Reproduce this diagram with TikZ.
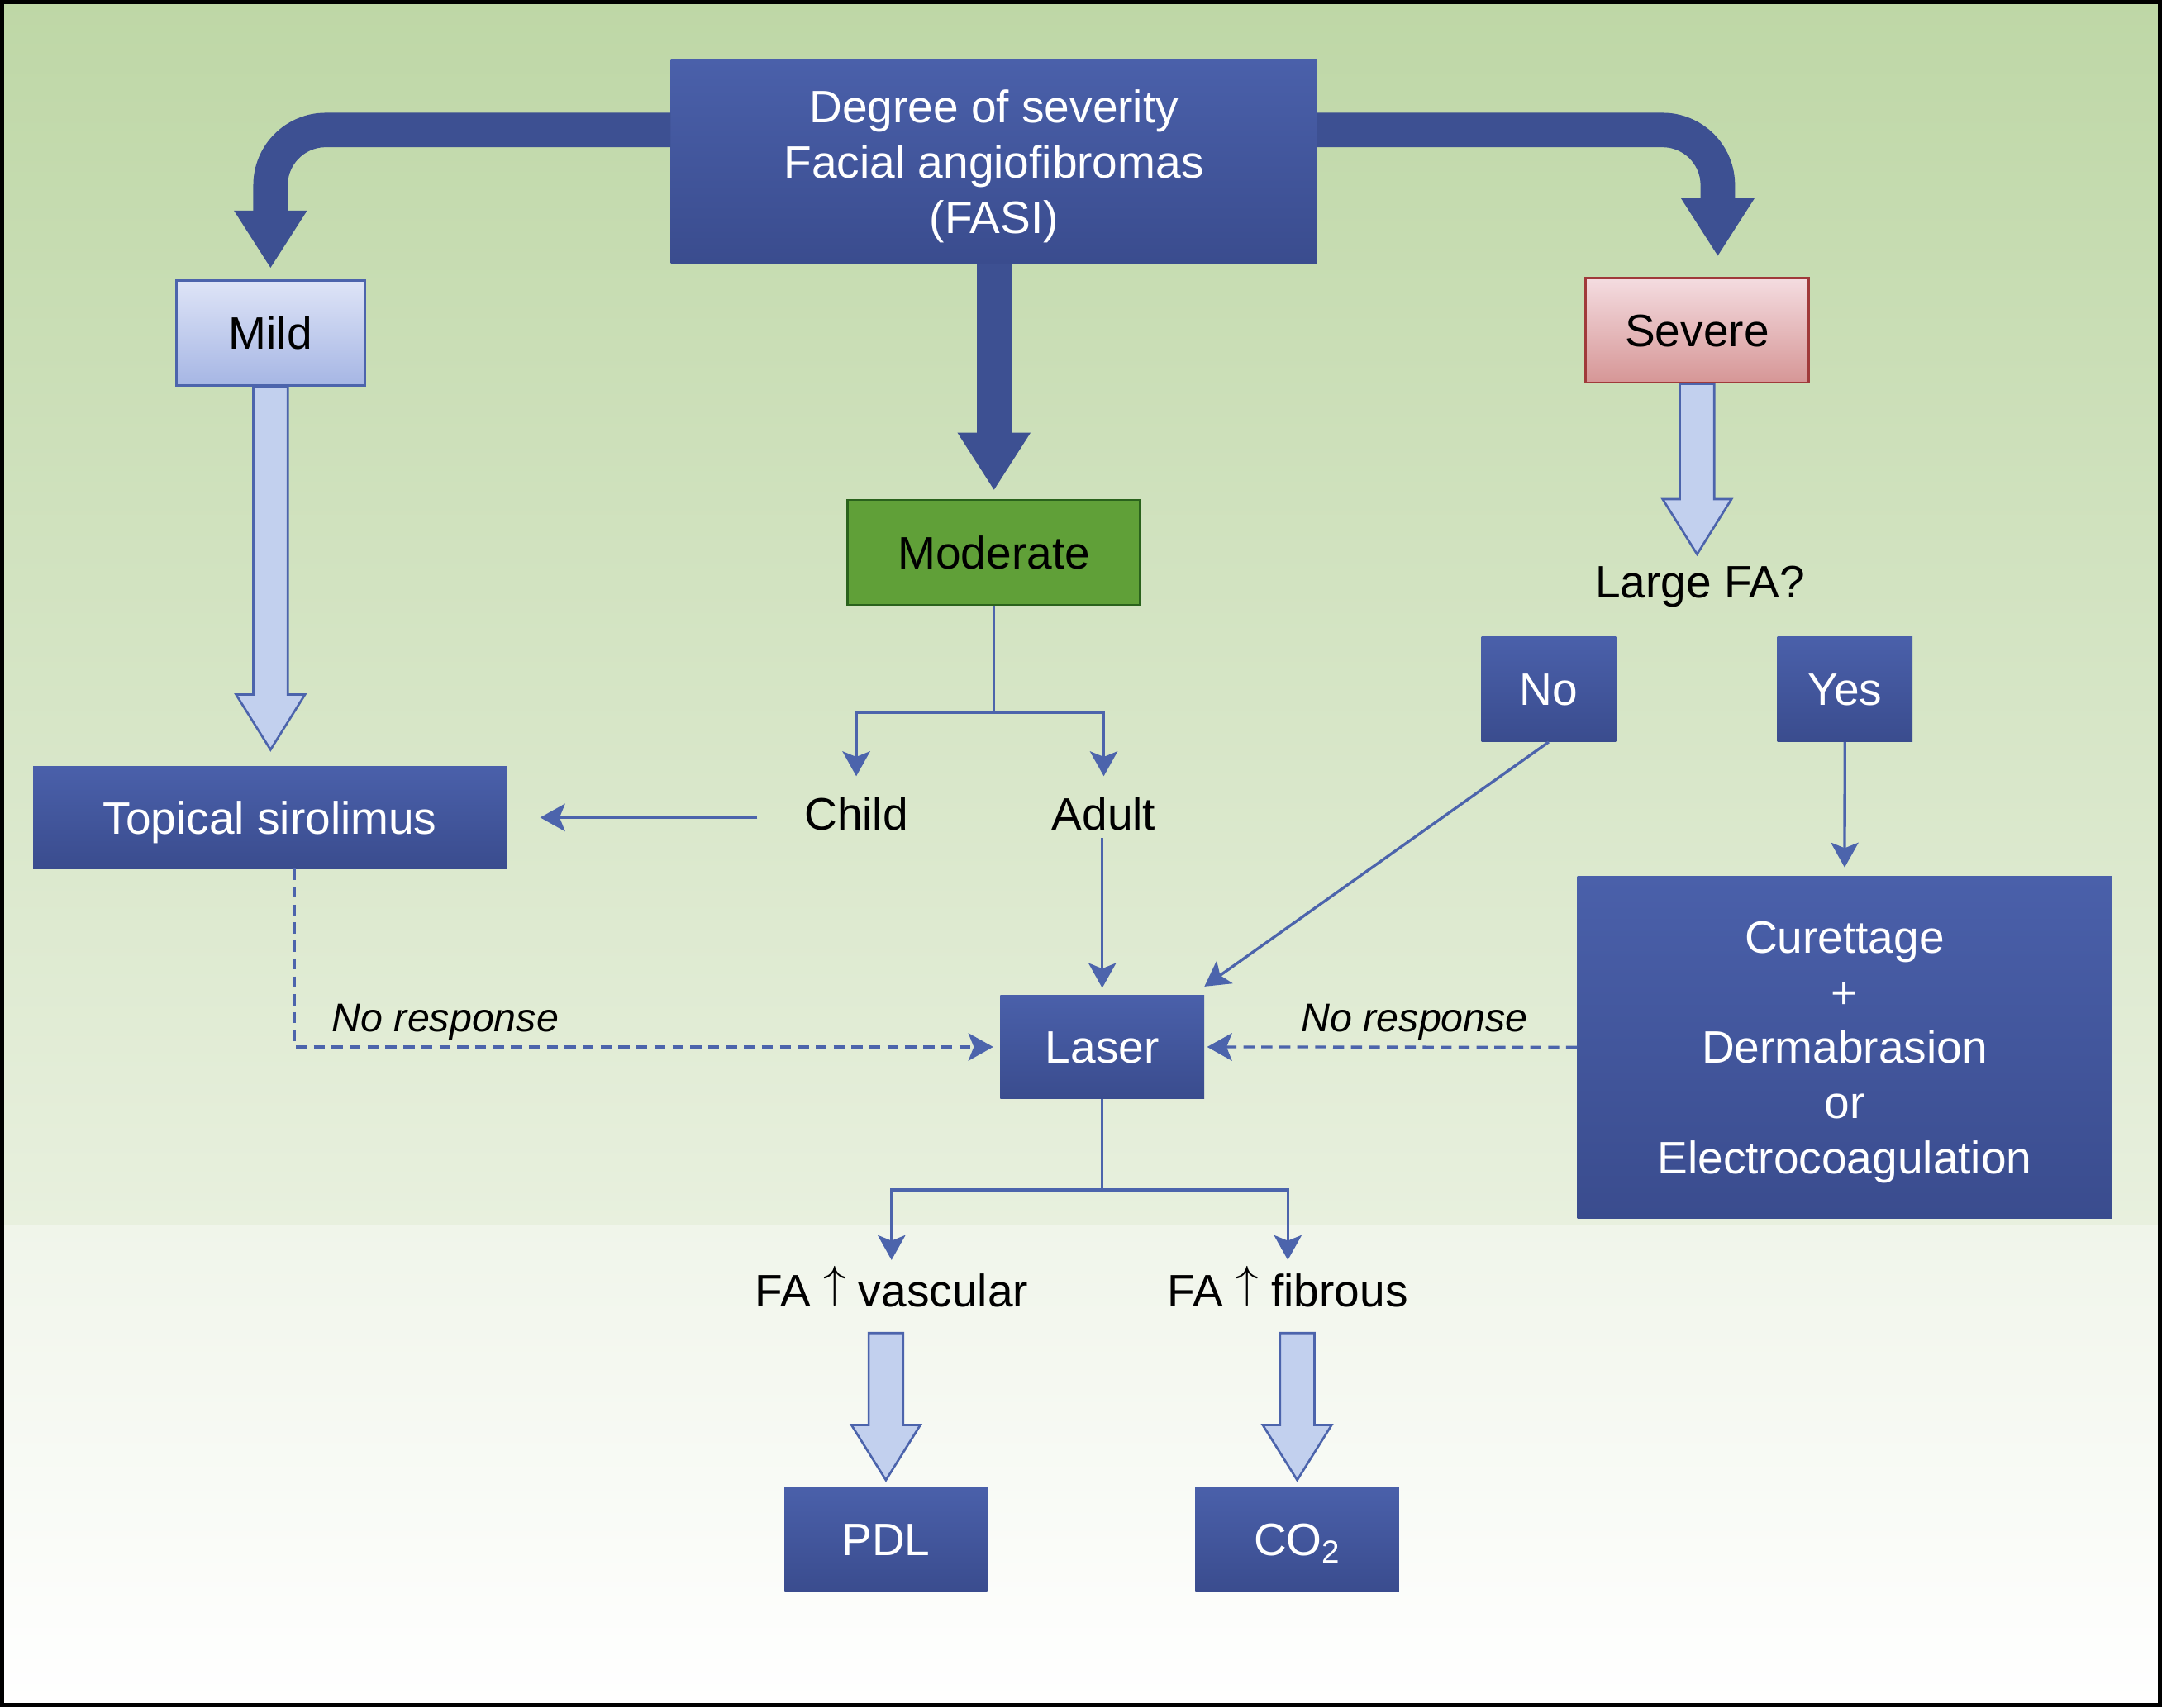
\RequirePackage{fix-cm}
\documentclass[tikz,border=0pt]{standalone}
\usepackage{fontspec}
\setmainfont{Liberation Sans}
\usepackage{tikz}
\usetikzlibrary{arrows.meta,calc}

\definecolor{boxblue}{RGB}{74,96,170}
\definecolor{boxbluedark}{RGB}{58,76,142}
\definecolor{bandblue}{RGB}{61,80,146}
\definecolor{linkblue}{RGB}{76,100,172}
\definecolor{paleblue}{RGB}{194,208,238}
\definecolor{mildtop}{RGB}{222,228,247}
\definecolor{mildbot}{RGB}{166,182,228}
\definecolor{sevtop}{RGB}{244,220,224}
\definecolor{sevbot}{RGB}{214,150,150}
\definecolor{sevline}{RGB}{160,58,58}
\definecolor{modfill}{RGB}{96,160,56}
\definecolor{modline}{RGB}{42,98,28}
\definecolor{bgtop}{RGB}{190,215,166}
\definecolor{bgmid}{RGB}{232,240,222}
\definecolor{bglow}{RGB}{240,245,234}

\tikzset{
  box/.style={rectangle, inner sep=0pt, font=\fontsize{33}{40}\selectfont},
  oneline/.style={text height=23.6pt, text depth=0pt},
  bluebox/.style={box, top color=boxblue, bottom color=boxbluedark, text=white},
  mildbox/.style={box, oneline, top color=mildtop, bottom color=mildbot, draw=linkblue, line width=1.6pt},
  sevbox/.style={box, oneline, top color=sevtop, bottom color=sevbot, draw=sevline, line width=1.6pt},
  modbox/.style={box, oneline, fill=modfill, draw=modline, line width=1.6pt},
  word/.style={box, oneline},
  note/.style={inner sep=0pt, font=\itshape\fontsize{29}{34}\selectfont, text height=20.8pt, text depth=0pt},
  band/.style={draw=bandblue, line width=25pt, -{Triangle[length=42pt,width=50pt]}},
  hollow/.style={draw=linkblue, fill=paleblue, line width=1.6pt},
  link/.style={linkblue, line width=2pt, -{Stealth[length=18pt,width=20pt,inset=4pt]}},
  dashlink/.style={link, dash pattern=on 8pt off 5pt}
}

% wide pale arrow pointing down, from #1 to the tip #2
\newcommand{\hollowarrow}[2]{%
  \draw[hollow] let \p1=#1, \p2=#2 in
    (\x1-12.5,\y1) -- (\x1-12.5,\y2+40) -- (\x1-25,\y2+40) -- (\x1,\y2)
    -- (\x1+25,\y2+40) -- (\x1+12.5,\y2+40) -- (\x1+12.5,\y1) -- cycle;}
% thin upward arrow a little taller than the capitals
\newcommand{\up}{\raisebox{0.194em}{$\uparrow$}}

\begin{document}
\begin{tikzpicture}[x=1pt,y=1pt]
   \useasboundingbox (0,0) rectangle (1568,-1238.4);
   \shade[top color=bgtop, bottom color=bgmid] (0,0) rectangle (1568,-889);
   \shade[top color=bglow, bottom color=white] (0,-889) rectangle (1568,-1238.4);
   \draw[line width=3pt] (1.5,-1.5) rectangle (1566.5,-1236.9);

   \draw (720.9,-117.3) node[bluebox, align=center, text height=103.6pt, text depth=0pt, minimum width=468.8pt, minimum height=147.4pt] (degree) {Degree of severity\\Facial angiofibromas\\(FASI)};
     \draw (196.2,-241.5) node[mildbox, minimum width=136.7pt, minimum height=76pt] (mild) {Mild};
     \draw (720.9,-400.7) node[modbox, minimum width=212.2pt, minimum height=76.2pt] (moderate) {Moderate};
     \draw (1230.8,-239.7) node[sevbox, minimum width=161.6pt, minimum height=75.8pt] (severe) {Severe};
   \draw (195.8,-593) node[bluebox, oneline, minimum width=343.6pt, minimum height=74pt] (topical) {Topical sirolimus};
      \draw (621,-590) node[word] (child) {Child};
      \draw (800.5,-590) node[word] (adult) {Adult};
      \draw (1233,-422) node[word] (largefa) {Large FA?};
      \draw (1123.2,-500) node[bluebox, oneline, minimum width=97.5pt, minimum height=76pt] (no) {No};
      \draw (1338,-500) node[bluebox, oneline, minimum width=98pt, minimum height=76pt] (yes) {Yes};
   \draw (799.4,-759.4) node[bluebox, oneline, minimum width=147.8pt, minimum height=75.2pt] (laser) {Laser};
   \draw (1337.8,-759.6) node[bluebox, align=center, text height=183.6pt, text depth=0pt, minimum width=387.6pt, minimum height=248.4pt] (cure) {Curettage\\+\\Dermabrasion\\or\\Electrocoagulation};
      \draw (646.6,-936) node[word] (vasc) {FA \up{} vascular};
      \draw (934,-936) node[word] (fibr) {FA \up{} fibrous};
      \draw (642.5,-1116.8) node[bluebox, oneline, minimum width=147pt, minimum height=76pt] (pdl) {PDL};
      \draw (940.8,-1116.8) node[bluebox, oneline, minimum width=147.7pt, minimum height=76pt] (co2) {CO\textsubscript{2}};
   \draw (323,-738) node[note] (noresp1) {No response};
   \draw (1026,-738) node[note] (noresp2) {No response};

     \draw[band, rounded corners=40pt] ([yshift=23pt]degree.west) -| ($(mild.north)+(0,8)$);
     \draw[band, rounded corners=40pt] ([yshift=23pt]degree.east) -| ($(severe.north)+(15,15)$);
     \draw[band] (degree.south) -- ($(moderate.north)+(0,6)$);

     \hollowarrow{(mild.south)}{($(topical.north)+(0,12)$)}
     \hollowarrow{(severe.south)}{($(largefa.north)+(0,8)$)}
     \hollowarrow{($(vasc.south -| pdl.north)+(0,-19)$)}{($(pdl.north)+(0,5)$)}
     \hollowarrow{($(fibr.south -| co2.north)+(0,-19)$)}{($(co2.north)+(0,5)$)}

     \draw[link] (moderate.south) -- ++(0,-77) coordinate (modsplit) -| ($(child.north)+(0,15)$);
     \draw[link] (modsplit) -| ($(adult.north)+(0,15)$);
     \draw[link] ($(topical.east -| child.west)+(-34,0)$) -- ($(topical.east)+(24,0)$);
     \draw[link] ($(adult.south -| laser.north)+(0,-6)$) -- ($(laser.north)+(0,5)$);
     \draw[link] (no.south) -- ($(laser.north east)+(0,6)$);
     \draw[link] (yes.south) -- ($(cure.north)+(0,6)$);
     \draw[link] (laser.south) -- ++(0,-66) coordinate (lasersplit) -| ($(vasc.north)+(0,10)$);
     \draw[link] (lasersplit) -| ($(fibr.north)+(0,10)$);
     \draw[dashlink] ($(topical.south)+(18,0)$) |- ($(laser.west)+(-5,0)$);
     \draw[dashlink] (cure.west) -- ($(laser.east)+(2,0)$);

\end{tikzpicture}
\end{document}
